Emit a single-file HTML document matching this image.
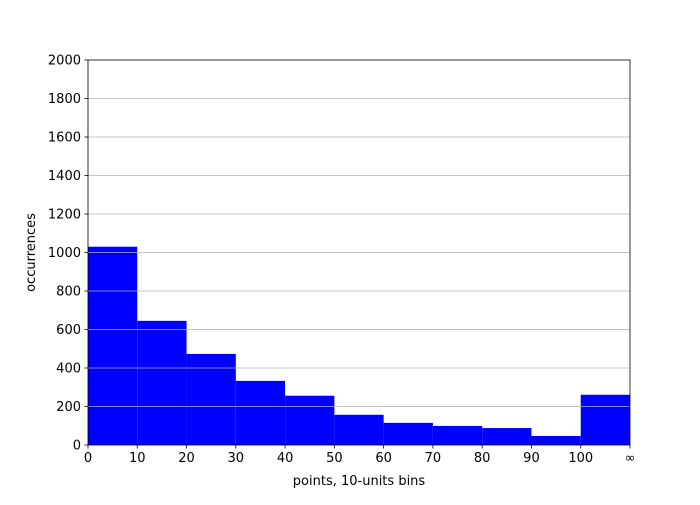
<!DOCTYPE html>
<html><head><meta charset="utf-8"><style>
body{margin:0;background:#fff}
svg text{font-family:"DejaVu Sans","Liberation Sans",sans-serif;font-size:13px;fill:#000}
</style></head><body>
<svg id="chart" width="700" height="500"></svg>
<script>
const categories=["0","10","20","30","40","50","60","70","80","90","100"];
const values=[1030,645,473,333,256,157,115,99,88,47,261];
const xTickLabels=["0","10","20","30","40","50","60","70","80","90","100","∞"];
const yTicks=[0,200,400,600,800,1000,1200,1400,1600,1800,2000];
const svg=document.getElementById('chart');
const NS='http://www.w3.org/2000/svg';
const L=88,R=630,T=60,B=445;
const yMax=2000;
const y=v=>B-(v/yMax)*(B-T);
const bw=(R-L)/categories.length;
const x=i=>L+i*bw;
function mk(t,a){const e=document.createElementNS(NS,t);for(const k in a)e.setAttribute(k,a[k]);svg.appendChild(e);return e;}
values.forEach((v,i)=>{
 const r=mk('rect',{x:x(i),y:y(v),width:bw,height:B-y(v),fill:'#0000ff'});
 
 
});
yTicks.forEach(t=>{
 if(t>0&&t<yMax){const g=mk('line',{x1:L,x2:R,y1:y(t),y2:y(t),stroke:'#b0b0b0','stroke-width':0.8});
 
 }
 mk('line',{x1:L-3.5,x2:L,y1:y(t),y2:y(t),stroke:'#000','stroke-width':0.8});
 const tx=mk('text',{x:L-7,y:y(t)+4.5,'text-anchor':'end'});tx.textContent=t;
 
 
});
xTickLabels.forEach((s,i)=>{
 mk('line',{x1:x(i),x2:x(i),y1:B,y2:B+3.5,stroke:'#000','stroke-width':0.8});
 const tx=mk('text',{x:x(i),y:B+17,'text-anchor':'middle'});tx.textContent=s;
 
 
});
const fr=mk('rect',{x:L,y:T,width:R-L,height:B-T,fill:'none',stroke:'#000','stroke-width':0.8});


const xt=mk('text',{x:(L+R)/2,y:485,'text-anchor':'middle'});xt.textContent='points, 10-units bins';


const yt=mk('text',{x:0,y:0,'text-anchor':'middle',transform:`translate(35,${(T+B)/2}) rotate(-90)`});yt.textContent='occurrences';


</script>
</body></html>
